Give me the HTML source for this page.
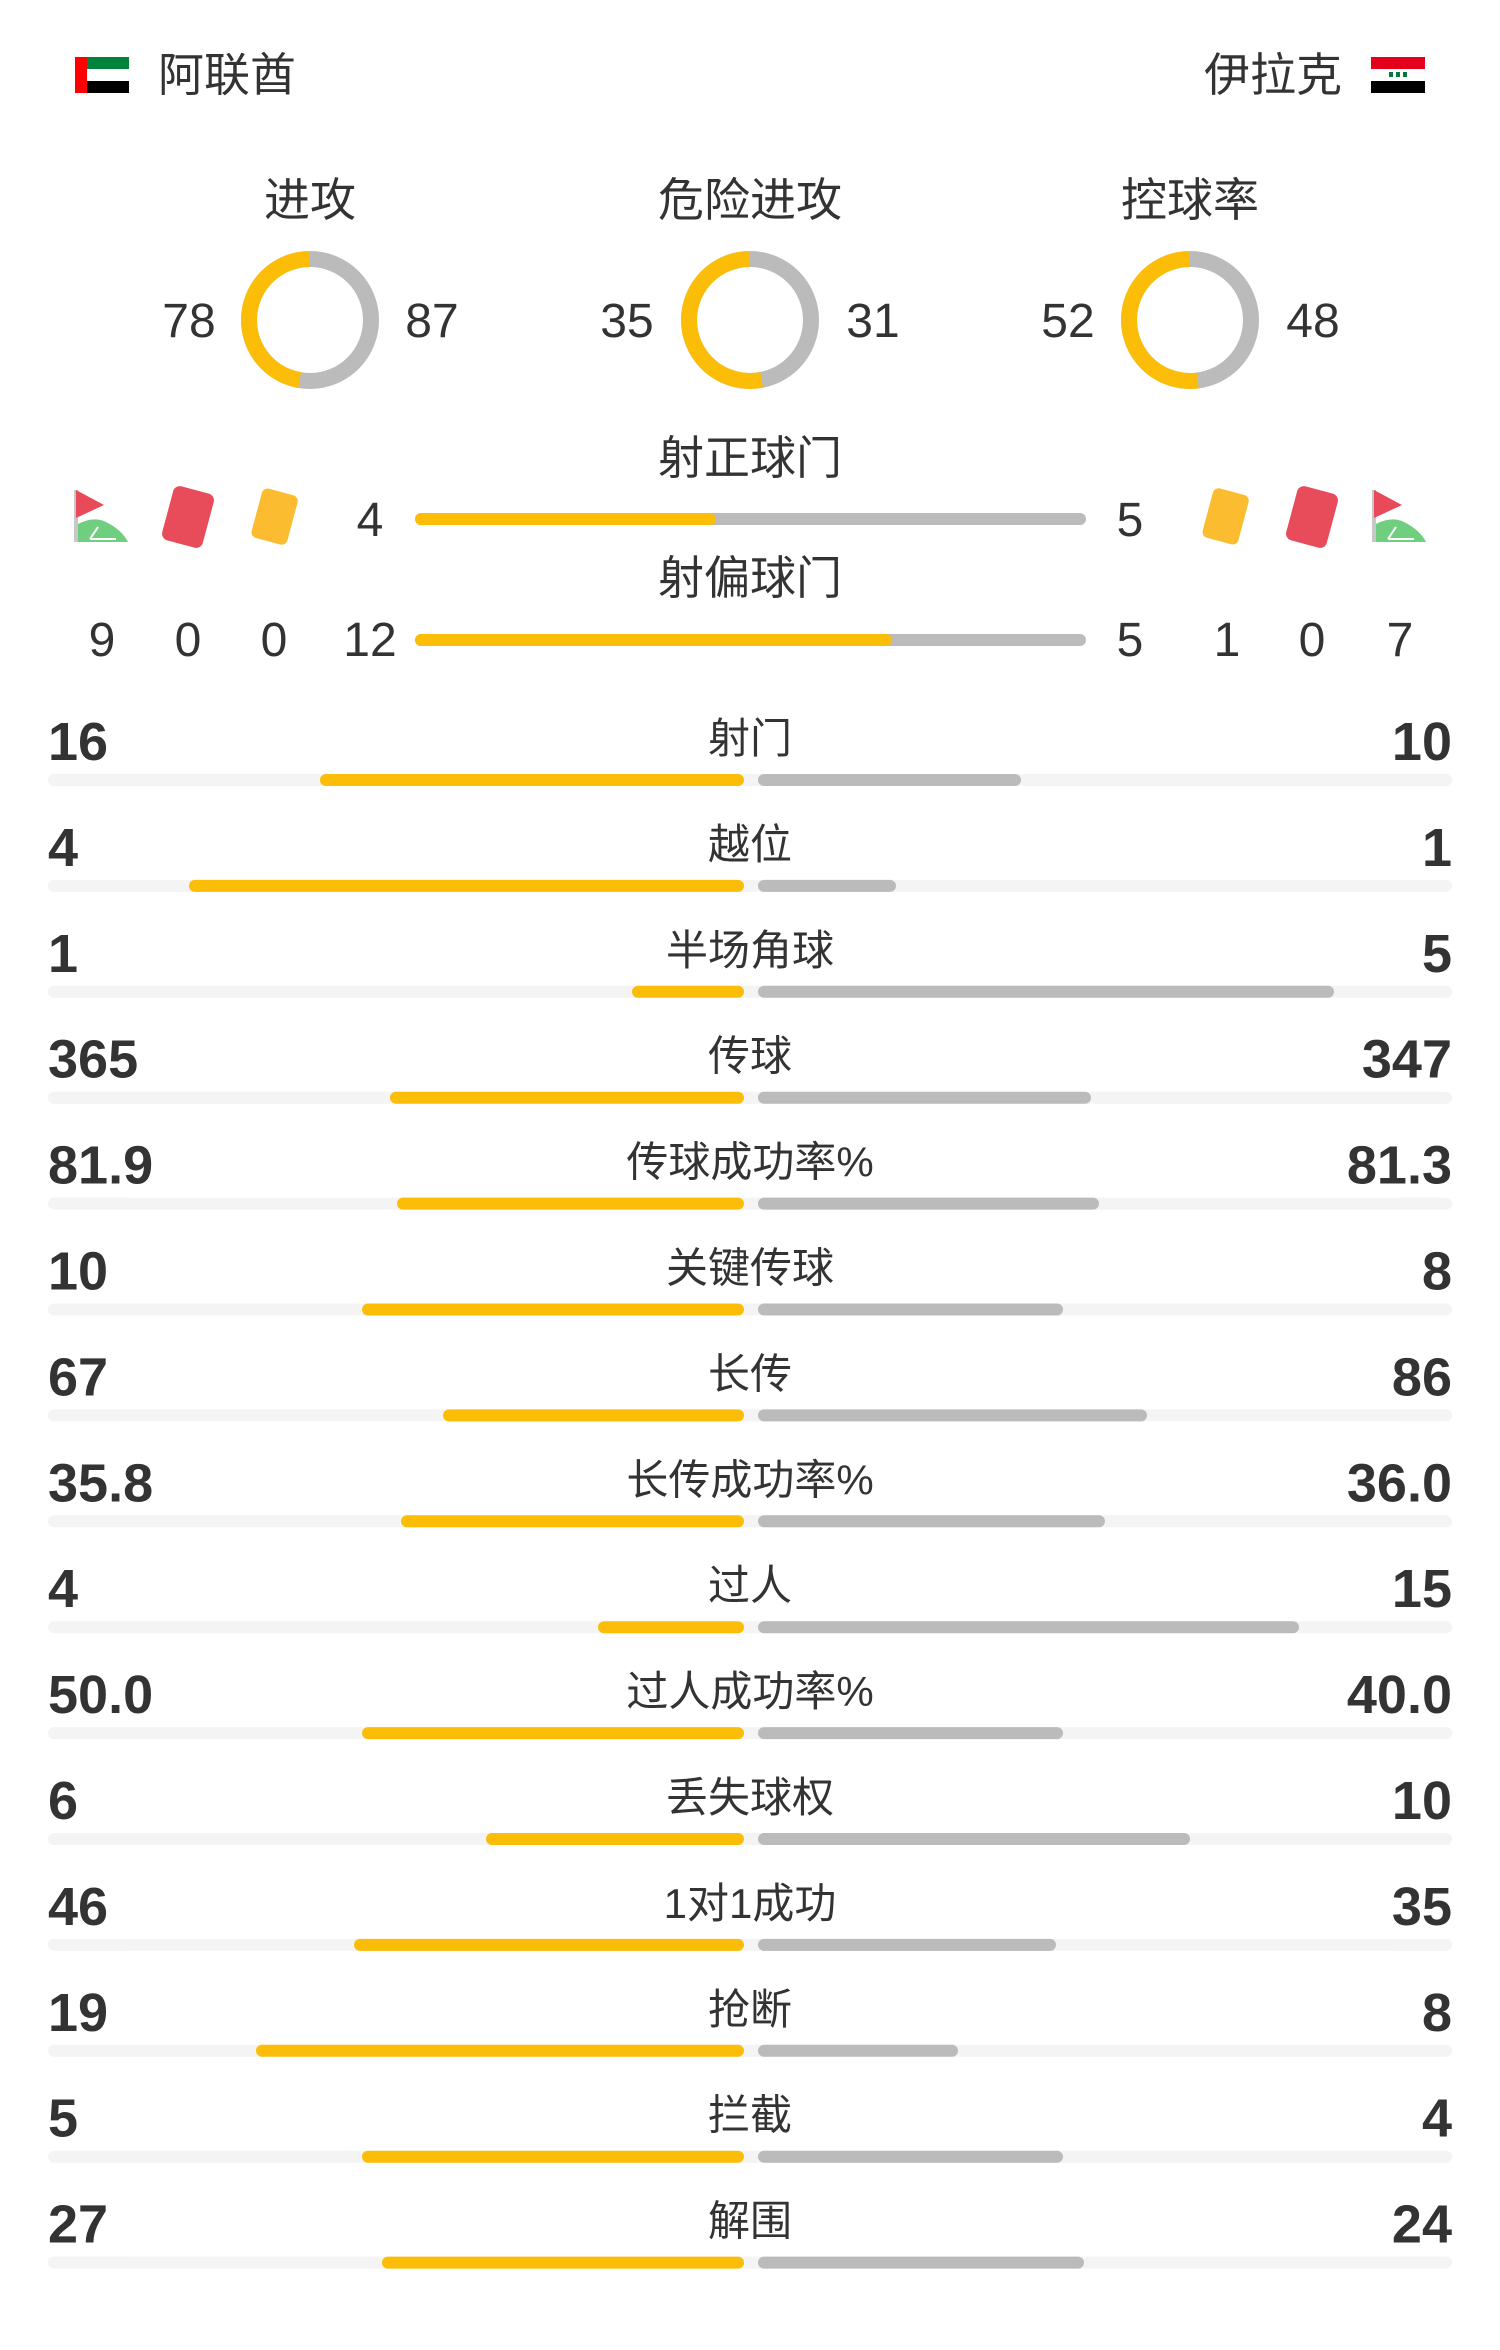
<!DOCTYPE html>
<html><head><meta charset="utf-8"><style>
html,body{margin:0;padding:0;background:#fff;}
svg{display:block;font-family:"Liberation Sans","Noto Sans CJK SC",sans-serif;}
.t{fill:#333;font-size:46px;}
.n{fill:#333;font-size:48px;}
.b{fill:#333;font-size:54px;font-weight:bold;}
.l{fill:#333;font-size:42px;text-anchor:middle;}
</style></head><body>
<svg width="1500" height="2350" viewBox="0 0 1500 2350" xmlns="http://www.w3.org/2000/svg">
<defs>
<g id="corner">
<rect x="0" y="0" width="4" height="52" fill="#c8c8c8"/>
<path d="M2 0 L30 15 L2 28 Z" fill="#e84a5a"/>
<path d="M4 52 L4 34 Q20 26 32 32 Q48 40 54 52 Z" fill="#6fcf7e"/>
<path d="M16 49 L24 37 M16 49 L42 49" stroke="#fff" stroke-width="2" fill="none"/>
</g>
</defs>
<rect x="75" y="57" width="12" height="36" fill="#f00"/>
<rect x="87" y="57" width="42" height="12" fill="#00843d"/>
<rect x="87" y="69" width="42" height="12" fill="#fff"/>
<rect x="87" y="81" width="42" height="12" fill="#000"/>
<text class="t" x="158" y="91">阿联酋</text>
<text class="t" x="1342" y="91" text-anchor="end">伊拉克</text>
<rect x="1371" y="57" width="54" height="12" fill="#e4001b"/>
<rect x="1371" y="69" width="54" height="12" fill="#fff"/>
<rect x="1371" y="81" width="54" height="12" fill="#000"/>
<rect x="1389" y="72" width="4" height="5" fill="#007a3d"/><rect x="1396" y="72" width="4" height="5" fill="#007a3d"/><rect x="1403" y="72" width="4" height="5" fill="#007a3d"/>
<text class="t" x="310" y="216" text-anchor="middle">进攻</text>
<text class="t" x="750" y="216" text-anchor="middle">危险进攻</text>
<text class="t" x="1190" y="216" text-anchor="middle">控球率</text>
<g fill="none" stroke-width="16">
<circle cx="310" cy="320" r="61" stroke="#bbb"/>
<circle cx="310" cy="320" r="61" stroke="#fbbd08" stroke-dasharray="181.2 400" transform="translate(620,0) scale(-1,1) rotate(-90 310 320)"/>
<circle cx="750" cy="320" r="61" stroke="#bbb"/>
<circle cx="750" cy="320" r="61" stroke="#fbbd08" stroke-dasharray="203.3 400" transform="translate(1500,0) scale(-1,1) rotate(-90 750 320)"/>
<circle cx="1190" cy="320" r="61" stroke="#bbb"/>
<circle cx="1190" cy="320" r="61" stroke="#fbbd08" stroke-dasharray="199.3 400" transform="translate(2380,0) scale(-1,1) rotate(-90 1190 320)"/>
</g>
<text class="n" x="189" y="337" text-anchor="middle">78</text>
<text class="n" x="432" y="337" text-anchor="middle">87</text>
<text class="n" x="627" y="337" text-anchor="middle">35</text>
<text class="n" x="873" y="337" text-anchor="middle">31</text>
<text class="n" x="1068" y="337" text-anchor="middle">52</text>
<text class="n" x="1313" y="337" text-anchor="middle">48</text>
<text class="t" x="750" y="474" text-anchor="middle">射正球门</text>
<line x1="421" y1="519" x2="1080" y2="519" stroke="#bbb" stroke-width="12" stroke-linecap="round"/>
<line x1="421" y1="519" x2="710" y2="519" stroke="#fbbd08" stroke-width="12" stroke-linecap="round"/>
<text class="n" x="370" y="536" text-anchor="middle">4</text>
<text class="n" x="1130" y="536" text-anchor="middle">5</text>
<use href="#corner" x="74" y="490"/>
<rect x="167" y="489" width="42" height="56" rx="7" fill="#e84c5b" transform="rotate(15 188 517)"/>
<rect x="256" y="491" width="37" height="51" rx="6" fill="#fbbd2f" transform="rotate(15 274 517)"/>
<rect x="1207" y="491" width="37" height="51" rx="6" fill="#fbbd2f" transform="rotate(15 1226 517)"/>
<rect x="1291" y="489" width="42" height="56" rx="7" fill="#e84c5b" transform="rotate(15 1312 517)"/>
<use href="#corner" x="1372" y="490"/>
<text class="t" x="750" y="594" text-anchor="middle">射偏球门</text>
<line x1="421" y1="640" x2="1080" y2="640" stroke="#bbb" stroke-width="12" stroke-linecap="round"/>
<line x1="421" y1="640" x2="886" y2="640" stroke="#fbbd08" stroke-width="12" stroke-linecap="round"/>
<text class="n" x="102" y="656" text-anchor="middle">9</text>
<text class="n" x="188" y="656" text-anchor="middle">0</text>
<text class="n" x="274" y="656" text-anchor="middle">0</text>
<text class="n" x="370" y="656" text-anchor="middle">12</text>
<text class="n" x="1130" y="656" text-anchor="middle">5</text>
<text class="n" x="1227" y="656" text-anchor="middle">1</text>
<text class="n" x="1312" y="656" text-anchor="middle">0</text>
<text class="n" x="1400" y="656" text-anchor="middle">7</text>
<g>
<g transform="translate(0,0)"><text class="b" x="48" y="760">16</text><text class="l" x="750" y="753">射门</text><text class="b" x="1452" y="760" text-anchor="end">10</text><rect x="48" y="774" width="1404" height="12" rx="6" fill="#f4f4f4"/><rect x="320" y="774" width="424" height="12" rx="6" fill="#fbbd08"/><rect x="758" y="774" width="263" height="12" rx="6" fill="#bbb"/></g>
<g transform="translate(0,105.9)"><text class="b" x="48" y="760">4</text><text class="l" x="750" y="753">越位</text><text class="b" x="1452" y="760" text-anchor="end">1</text><rect x="48" y="774" width="1404" height="12" rx="6" fill="#f4f4f4"/><rect x="189" y="774" width="555" height="12" rx="6" fill="#fbbd08"/><rect x="758" y="774" width="138" height="12" rx="6" fill="#bbb"/></g>
<g transform="translate(0,211.8)"><text class="b" x="48" y="760">1</text><text class="l" x="750" y="753">半场角球</text><text class="b" x="1452" y="760" text-anchor="end">5</text><rect x="48" y="774" width="1404" height="12" rx="6" fill="#f4f4f4"/><rect x="632" y="774" width="112" height="12" rx="6" fill="#fbbd08"/><rect x="758" y="774" width="576" height="12" rx="6" fill="#bbb"/></g>
<g transform="translate(0,317.7)"><text class="b" x="48" y="760">365</text><text class="l" x="750" y="753">传球</text><text class="b" x="1452" y="760" text-anchor="end">347</text><rect x="48" y="774" width="1404" height="12" rx="6" fill="#f4f4f4"/><rect x="390" y="774" width="354" height="12" rx="6" fill="#fbbd08"/><rect x="758" y="774" width="333" height="12" rx="6" fill="#bbb"/></g>
<g transform="translate(0,423.6)"><text class="b" x="48" y="760">81.9</text><text class="l" x="750" y="753">传球成功率%</text><text class="b" x="1452" y="760" text-anchor="end">81.3</text><rect x="48" y="774" width="1404" height="12" rx="6" fill="#f4f4f4"/><rect x="397" y="774" width="347" height="12" rx="6" fill="#fbbd08"/><rect x="758" y="774" width="341" height="12" rx="6" fill="#bbb"/></g>
<g transform="translate(0,529.5)"><text class="b" x="48" y="760">10</text><text class="l" x="750" y="753">关键传球</text><text class="b" x="1452" y="760" text-anchor="end">8</text><rect x="48" y="774" width="1404" height="12" rx="6" fill="#f4f4f4"/><rect x="362" y="774" width="382" height="12" rx="6" fill="#fbbd08"/><rect x="758" y="774" width="305" height="12" rx="6" fill="#bbb"/></g>
<g transform="translate(0,635.4)"><text class="b" x="48" y="760">67</text><text class="l" x="750" y="753">长传</text><text class="b" x="1452" y="760" text-anchor="end">86</text><rect x="48" y="774" width="1404" height="12" rx="6" fill="#f4f4f4"/><rect x="443" y="774" width="301" height="12" rx="6" fill="#fbbd08"/><rect x="758" y="774" width="389" height="12" rx="6" fill="#bbb"/></g>
<g transform="translate(0,741.3)"><text class="b" x="48" y="760">35.8</text><text class="l" x="750" y="753">长传成功率%</text><text class="b" x="1452" y="760" text-anchor="end">36.0</text><rect x="48" y="774" width="1404" height="12" rx="6" fill="#f4f4f4"/><rect x="401" y="774" width="343" height="12" rx="6" fill="#fbbd08"/><rect x="758" y="774" width="347" height="12" rx="6" fill="#bbb"/></g>
<g transform="translate(0,847.2)"><text class="b" x="48" y="760">4</text><text class="l" x="750" y="753">过人</text><text class="b" x="1452" y="760" text-anchor="end">15</text><rect x="48" y="774" width="1404" height="12" rx="6" fill="#f4f4f4"/><rect x="598" y="774" width="146" height="12" rx="6" fill="#fbbd08"/><rect x="758" y="774" width="541" height="12" rx="6" fill="#bbb"/></g>
<g transform="translate(0,953.1)"><text class="b" x="48" y="760">50.0</text><text class="l" x="750" y="753">过人成功率%</text><text class="b" x="1452" y="760" text-anchor="end">40.0</text><rect x="48" y="774" width="1404" height="12" rx="6" fill="#f4f4f4"/><rect x="362" y="774" width="382" height="12" rx="6" fill="#fbbd08"/><rect x="758" y="774" width="305" height="12" rx="6" fill="#bbb"/></g>
<g transform="translate(0,1059)"><text class="b" x="48" y="760">6</text><text class="l" x="750" y="753">丢失球权</text><text class="b" x="1452" y="760" text-anchor="end">10</text><rect x="48" y="774" width="1404" height="12" rx="6" fill="#f4f4f4"/><rect x="486" y="774" width="258" height="12" rx="6" fill="#fbbd08"/><rect x="758" y="774" width="432" height="12" rx="6" fill="#bbb"/></g>
<g transform="translate(0,1164.9)"><text class="b" x="48" y="760">46</text><text class="l" x="750" y="753">1对1成功</text><text class="b" x="1452" y="760" text-anchor="end">35</text><rect x="48" y="774" width="1404" height="12" rx="6" fill="#f4f4f4"/><rect x="354" y="774" width="390" height="12" rx="6" fill="#fbbd08"/><rect x="758" y="774" width="298" height="12" rx="6" fill="#bbb"/></g>
<g transform="translate(0,1270.8)"><text class="b" x="48" y="760">19</text><text class="l" x="750" y="753">抢断</text><text class="b" x="1452" y="760" text-anchor="end">8</text><rect x="48" y="774" width="1404" height="12" rx="6" fill="#f4f4f4"/><rect x="256" y="774" width="488" height="12" rx="6" fill="#fbbd08"/><rect x="758" y="774" width="200" height="12" rx="6" fill="#bbb"/></g>
<g transform="translate(0,1376.7)"><text class="b" x="48" y="760">5</text><text class="l" x="750" y="753">拦截</text><text class="b" x="1452" y="760" text-anchor="end">4</text><rect x="48" y="774" width="1404" height="12" rx="6" fill="#f4f4f4"/><rect x="362" y="774" width="382" height="12" rx="6" fill="#fbbd08"/><rect x="758" y="774" width="305" height="12" rx="6" fill="#bbb"/></g>
<g transform="translate(0,1482.6)"><text class="b" x="48" y="760">27</text><text class="l" x="750" y="753">解围</text><text class="b" x="1452" y="760" text-anchor="end">24</text><rect x="48" y="774" width="1404" height="12" rx="6" fill="#f4f4f4"/><rect x="382" y="774" width="362" height="12" rx="6" fill="#fbbd08"/><rect x="758" y="774" width="326" height="12" rx="6" fill="#bbb"/></g>
</g>
</svg>
</body></html>
